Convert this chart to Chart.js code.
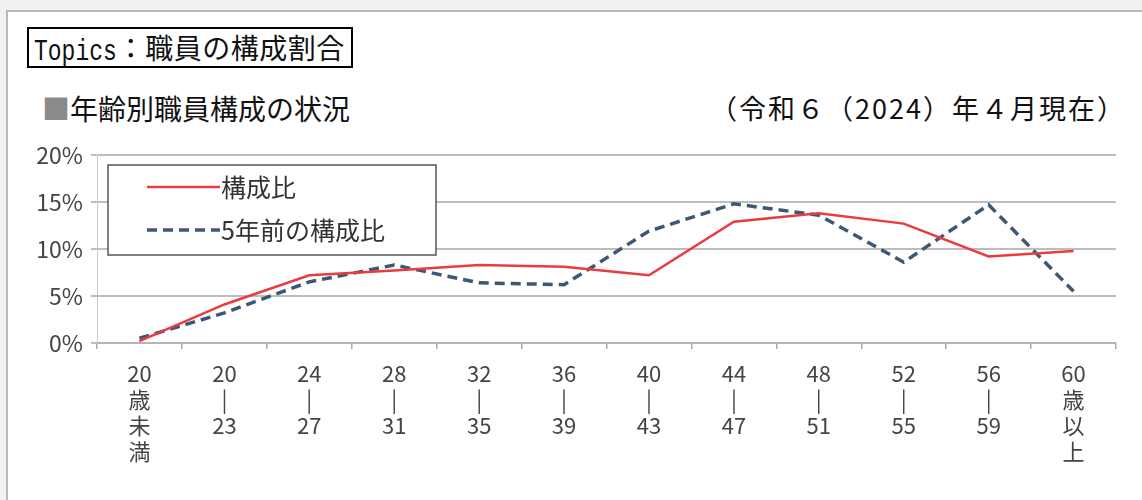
<!DOCTYPE html>
<html lang="ja">
<head>
<meta charset="utf-8">
<script src="https://cdn.jsdelivr.net/npm/chart.js@4.4.1/dist/chart.umd.min.js"></script>
<style>
  html, body { margin: 0; padding: 0; background: #f1f1f1; }
  body { width: 1142px; height: 500px; position: relative; overflow: hidden; font-family: "Noto Sans CJK JP", sans-serif; }
  #panel { position: absolute; left: 6px; top: 10px; width: 1150px; height: 500px; background: #fff; border: 2px solid #b9b9b9; }
  #topics { position: absolute; left: 27px; top: 27px; height: 37px; padding: 0 6px 0 5px; border: 2px solid #000; font-size: 28px; line-height: 37px; color: #111; white-space: nowrap; letter-spacing: 0.5px; }
  #topics .lat { display: inline-block; font-family: "Liberation Mono", monospace; font-size: 23px; transform: scale(1, 1.25); letter-spacing: 0; }
  #subtitle { position: absolute; left: 42px; top: 90px; font-size: 28px; line-height: 36px; color: #111; white-space: nowrap; }
  #subtitle .sq { color: #8a8a8a; }
  #asof { position: absolute; right: 16px; top: 90px; font-size: 27px; line-height: 36px; color: #111; white-space: nowrap; letter-spacing: 2px; }
  #wrap { position: absolute; left: 0; top: 0; width: 1142px; height: 500px; }
</style>
</head>
<body>
<div id="panel"></div>
<div id="topics"><span class="lat">Topics</span>：職員の構成割合</div>
<div id="subtitle"><span class="sq">■</span>年齢別職員構成の状況</div>
<div id="asof">（令和６（2024）年４月現在）</div>
<div id="wrap"><canvas id="ageChart"></canvas></div>
<script>
// age groups (x axis, one label line per array item)
const ageLabels = [
    ['20', '歳', '未', '満'],
    ['20', '|', '23'],
    ['24', '|', '27'],
    ['28', '|', '31'],
    ['32', '|', '35'],
    ['36', '|', '39'],
    ['40', '|', '43'],
    ['44', '|', '47'],
    ['48', '|', '51'],
    ['52', '|', '55'],
    ['56', '|', '59'],
    ['60', '歳', '以', '上']
];
// percent values
const currentRatio = [0.2, 4.1, 7.2, 7.7, 8.3, 8.1, 7.2, 12.9, 13.8, 12.7, 9.2, 9.8];
const ratio5YearsAgo = [0.5, 3.2, 6.5, 8.3, 6.4, 6.2, 11.9, 14.8, 13.6, 8.6, 14.7, 5.5];
const yTicks = [0, 5, 10, 15, 20];

const labelFont = '"Liberation Sans Narrow", "Noto Sans CJK JP", sans-serif';

// legend drawn as a box inside the plot, like the original
const boxLegend = {
    id: 'boxLegend',
    afterDraw(chart) {
        const ctx = chart.ctx;
        const x = 108, y = 165, w = 328, h = 90;
        ctx.save();
        ctx.fillStyle = '#fff';
        ctx.fillRect(x, y, w, h);
        ctx.strokeStyle = '#555';
        ctx.lineWidth = 1.5;
        ctx.strokeRect(x, y, w, h);
        ctx.font = '25px "Noto Sans CJK JP", sans-serif';
        ctx.textBaseline = 'middle';
        chart.data.datasets.forEach((ds, i) => {
            const ly = y + 22 + i * 43;
            ctx.beginPath();
            ctx.strokeStyle = ds.borderColor;
            ctx.lineWidth = ds.borderWidth;
            ctx.setLineDash(ds.borderDash || []);
            ctx.moveTo(x + 39, ly);
            ctx.lineTo(x + 112, ly);
            ctx.stroke();
            ctx.setLineDash([]);
            ctx.fillStyle = '#333';
            ctx.fillText(ds.label, x + 113, ly);
        });
        ctx.restore();
    }
};

const ageChart = new Chart(document.getElementById('ageChart'), {
    type: 'line',
    data: {
        labels: ageLabels,
        datasets: [{
            label: '構成比',
            data: currentRatio,
            borderColor: '#ea3b3f',
            borderWidth: 2.5,
            pointRadius: 0,
            tension: 0,
            fill: false
        }, {
            label: '5年前の構成比',
            data: ratio5YearsAgo,
            borderColor: '#3d5876',
            borderWidth: 3.5,
            borderDash: [10, 6],
            pointRadius: 0,
            tension: 0,
            fill: false
        }]
    },
    options: {
        responsive: true,
        maintainAspectRatio: false,
        animation: false,
        layout: {
            padding: { top: 155, right: 26, left: 0, bottom: 0 }
        },
        plugins: {
            legend: { display: false },
            tooltip: { enabled: false }
        },
        scales: {
            x: {
                offset: true,
                grid: {
                    offset: true,
                    drawOnChartArea: false,
                    tickLength: 6,
                    color: '#aaa',
                    lineWidth: 1.5
                },
                border: { color: '#b5b5b5', width: 2 },
                ticks: {
                    maxRotation: 0,
                    autoSkip: false,
                    padding: 12,
                    color: '#444',
                    font: { family: labelFont, size: 22, lineHeight: 1.18 }
                },
                afterFit(scale) { scale.height = 157; }
            },
            y: {
                min: 0,
                max: 20,
                afterBuildTicks(scale) { scale.ticks = yTicks.map(v => ({ value: v })); },
                grid: {
                    color: '#bdbdbd',
                    lineWidth: 2,
                    tickLength: 6
                },
                border: { color: '#c8c8c8', width: 1 },
                ticks: {
                    padding: 8,
                    color: '#444',
                    font: { family: labelFont, size: 23 },
                    callback: v => v + '%'
                },
                afterFit(scale) { scale.width = 97; }
            }
        }
    },
    plugins: [boxLegend]
});
</script>
</body>
</html>
